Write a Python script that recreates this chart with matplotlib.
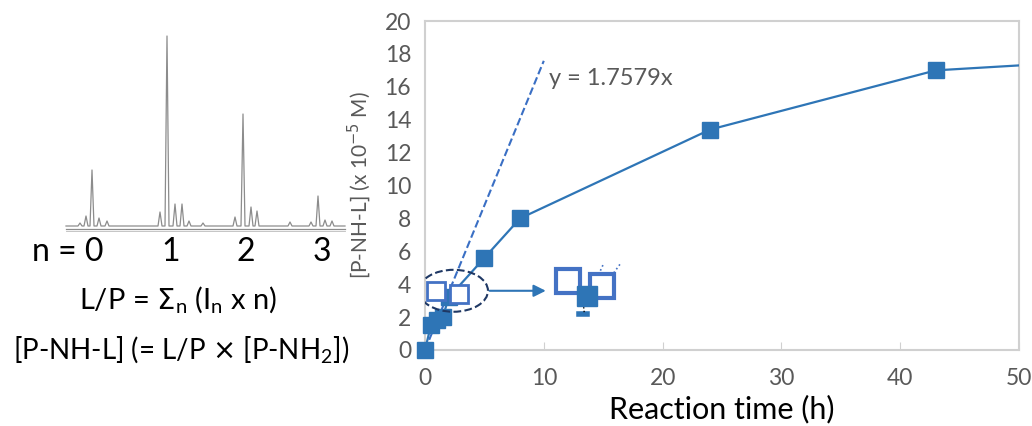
import matplotlib
matplotlib.use("Agg")
import matplotlib.pyplot as plt
from matplotlib.patches import Ellipse

plt.rcParams['font.family'] = ['Lato', 'DejaVu Sans']

# reaction data (x 10^-5 M)
time_h = [0, 0.5, 1, 1.5, 2, 5, 8, 24, 43]
conc = [0, 1.5, 1.8, 2.0, 3.2, 5.6, 8.0, 13.4, 17.0]
line_end = (50, 17.3)
open_t = [0.9, 2.9]
open_c = [3.6, 3.4]
slope = 1.7579
fit_t = [0, 10]

# spectrum sketch (pixel space of the left panel): peak position, height
peak_x = [80, 86, 92, 99, 107, 160, 167, 175, 182, 189, 203, 235, 243, 251, 257,
          290, 311, 318, 325, 332]
peak_h = [3, 10, 56, 8, 5, 14, 190, 22, 22, 5, 3, 9, 112, 19, 15, 4, 4, 30, 6, 5]
baseline_y = 226

blue = "#2E75B6"
gray = "#595959"

fig = plt.figure(figsize=(10.32, 4.26), dpi=100)

# ---- left panel: spectrum + formulas
ax0 = fig.add_axes([0, 0, 0.36, 1])
ax0.set_xlim(0, 0.36 * 1032)
ax0.set_ylim(426, 0)
ax0.axis("off")
xs, ys = [66], [baseline_y]
for px, ph in zip(peak_x, peak_h):
    xs += [px - 2, px, px + 2]
    ys += [baseline_y, baseline_y - ph, baseline_y]
xs.append(345)
ys.append(baseline_y)
ax0.plot(xs, ys, color="#8c8c8c", lw=0.9)
ax0.plot([66, 345], [229, 229], color="#8c8c8c", lw=0.9)
ax0.plot([66, 345], [231, 231], color="#bbbbbb", lw=0.6)

ax0.text(68, 252, "n = 0", fontsize=23, ha="center", va="center")
for lab, px in zip(["1", "2", "3"], [171, 246, 322]):
    ax0.text(px, 252, lab, fontsize=23, ha="center", va="center")
ax0.text(178, 300, r"L/P = $\Sigma_\mathregular{n}$ (I$_\mathregular{n}$ x n)",
         fontsize=21, ha="center", va="center")
ax0.text(181, 350, r"[P-NH-L] (= L/P $\times$ [P-NH$_\mathregular{2}$])",
         fontsize=20, ha="center", va="center")

# ---- right panel
ax = fig.add_axes([425 / 1032, 1 - 350 / 426, 594 / 1032, 329 / 426])
ax.plot(time_h + [line_end[0]], conc + [line_end[1]], color=blue, lw=1.6, zorder=3)
ax.plot(time_h, conc, "s", color=blue, ms=11, zorder=4, clip_on=False)
ax.plot(fit_t, [slope * t for t in fit_t], "--", color="#3A6FC4", lw=1.5, zorder=2)
ax.plot(open_t, open_c, "s", mfc="white", mec="#4472C4", mew=2, ms=13, zorder=5)
ax.text(10.4, 16.5, "y = 1.7579x", fontsize=17, color=gray, va="center")

ax.add_patch(Ellipse((2.4, 3.6), 5.8, 2.55, fill=False, ls="--", lw=1.5,
                     ec="#1F3864", zorder=6))
ax.annotate("", xy=(10.4, 3.6), xytext=(5.2, 3.6),
            arrowprops=dict(arrowstyle="-|>", color=blue, lw=1.5, mutation_scale=18))

# zoomed inset sketch
ax.plot([12.0, 14.9], [4.2, 3.9], "s", mfc="white", mec="#4472C4", mew=3, ms=17, zorder=5)
ax.plot([13.6], [3.3], "s", color=blue, ms=15, zorder=6)
ax.plot([13.0, 13.6], [2.2, 2.2], color=blue, lw=4)
ax.plot([13.4, 13.3], [2.3, 3.0], ":", color="k", lw=1)
ax.plot([14.0, 15.0], [3.6, 5.2], ":", color="#4472C4", lw=1.2)
ax.plot([14.8, 16.5], [3.6, 5.3], ":", color="#4472C4", lw=1.2)

ax.set_xlim(0, 50)
ax.set_ylim(0, 20)
ax.set_xticks(range(0, 51, 10))
ax.set_yticks(range(0, 21, 2))
for s in ax.spines.values():
    s.set_color("#D0D0D0")
    s.set_linewidth(1.5)
ax.tick_params(axis="x", direction="in", length=6, color="#D0D0D0", pad=13,
               labelsize=16.5, labelcolor=gray)
ax.tick_params(axis="y", length=0, pad=10, labelsize=16.5, labelcolor=gray)
ax.set_xlabel("Reaction time (h)", fontsize=22, labelpad=4)
ax.set_ylabel(r"[P-NH-L] (x 10$^{-5}$ M)", fontsize=15, color=gray, labelpad=8)

fig.savefig("out.png", dpi=100)
